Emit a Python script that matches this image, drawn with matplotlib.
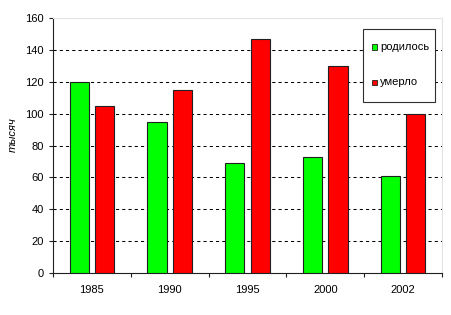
import numpy as np
import matplotlib
matplotlib.use('Agg')
import matplotlib.pyplot as plt
from matplotlib.patches import Rectangle

plt.rcParams['font.family'] = ['Liberation Sans', 'DejaVu Sans']

years = ['1985', '1990', '1995', '2000', '2002']
born = [120, 95, 69, 73, 61]
died = [105, 115, 147, 130, 100]
series_labels = ['родилось', 'умерло']
y_label = 'тысяч'

GREEN = '#00ff00'
RED = '#ff0000'
EDGE = '#202020'
FS = 8

fw, fh = 4.51, 3.15
fig = plt.figure(figsize=(fw, fh), dpi=100)
fig.patch.set_facecolor('white')

# plot area, in pixels of the 451x315 picture
l, r, t, b = 53, 442, 18, 273
ax = fig.add_axes([l/451, 1-b/315, (r-l)/451, (b-t)/315])

xpos = np.arange(len(years))
bw = 0.245
off = 0.163
ax.bar(xpos-off, born, width=bw, color=GREEN, edgecolor=EDGE, linewidth=0.8,
       zorder=3)
ax.bar(xpos+off, died, width=bw, color=RED, edgecolor=EDGE, linewidth=0.8,
       zorder=3)

ax.set_xlim(-0.5, len(years)-0.5)
ax.set_ylim(0, 160)
ax.set_yticks(np.arange(0, 161, 20))
ax.tick_params(axis='y', direction='out', length=3, width=0.8, pad=3.5,
               labelsize=FS, color=EDGE)

ax.set_xticks(xpos)
ax.set_xticklabels(years, fontsize=FS)
ax.set_xticks(np.arange(-0.5, len(years)), minor=True)
ax.tick_params(axis='x', which='major', length=0, pad=8.5)
ax.tick_params(axis='x', which='minor', direction='out', length=3,
               width=0.8, color=EDGE)

# dashed gridlines
for v in np.arange(20, 160, 20):
    ax.axhline(v, color='black', linewidth=0.75, dashes=(3, 3), zorder=1)

for s in ['left', 'bottom']:
    ax.spines[s].set_color(EDGE)
    ax.spines[s].set_linewidth(0.8)
for s in ['top', 'right']:
    ax.spines[s].set_color('#e4e4e4')
    ax.spines[s].set_linewidth(0.8)

fig.text(13/451, 1-135/315, y_label, rotation=90, style='italic',
         ha='center', va='center', fontsize=FS)

# legend box drawn by hand
lx0, ly0, lx1, ly1 = 363.3, 29.3, 434.5, 102.3
fig.patches.append(Rectangle((lx0/451, 1-ly1/315), (lx1-lx0)/451,
                             (ly1-ly0)/315, transform=fig.transFigure,
                             facecolor='white', edgecolor='#303030',
                             linewidth=0.8, zorder=5))
for lab, col, yc in zip(series_labels, [GREEN, RED], [47.2, 82.3]):
    fig.patches.append(Rectangle((371.7/451, 1-(yc+2.8)/315), 5.4/451,
                                 5.6/315, transform=fig.transFigure,
                                 facecolor=col, edgecolor='#202020',
                                 linewidth=0.6, zorder=6))
    fig.text(380/451, 1-yc/315, lab, ha='left', va='center', fontsize=FS,
             zorder=7)

fig.savefig('out.png', dpi=100)
